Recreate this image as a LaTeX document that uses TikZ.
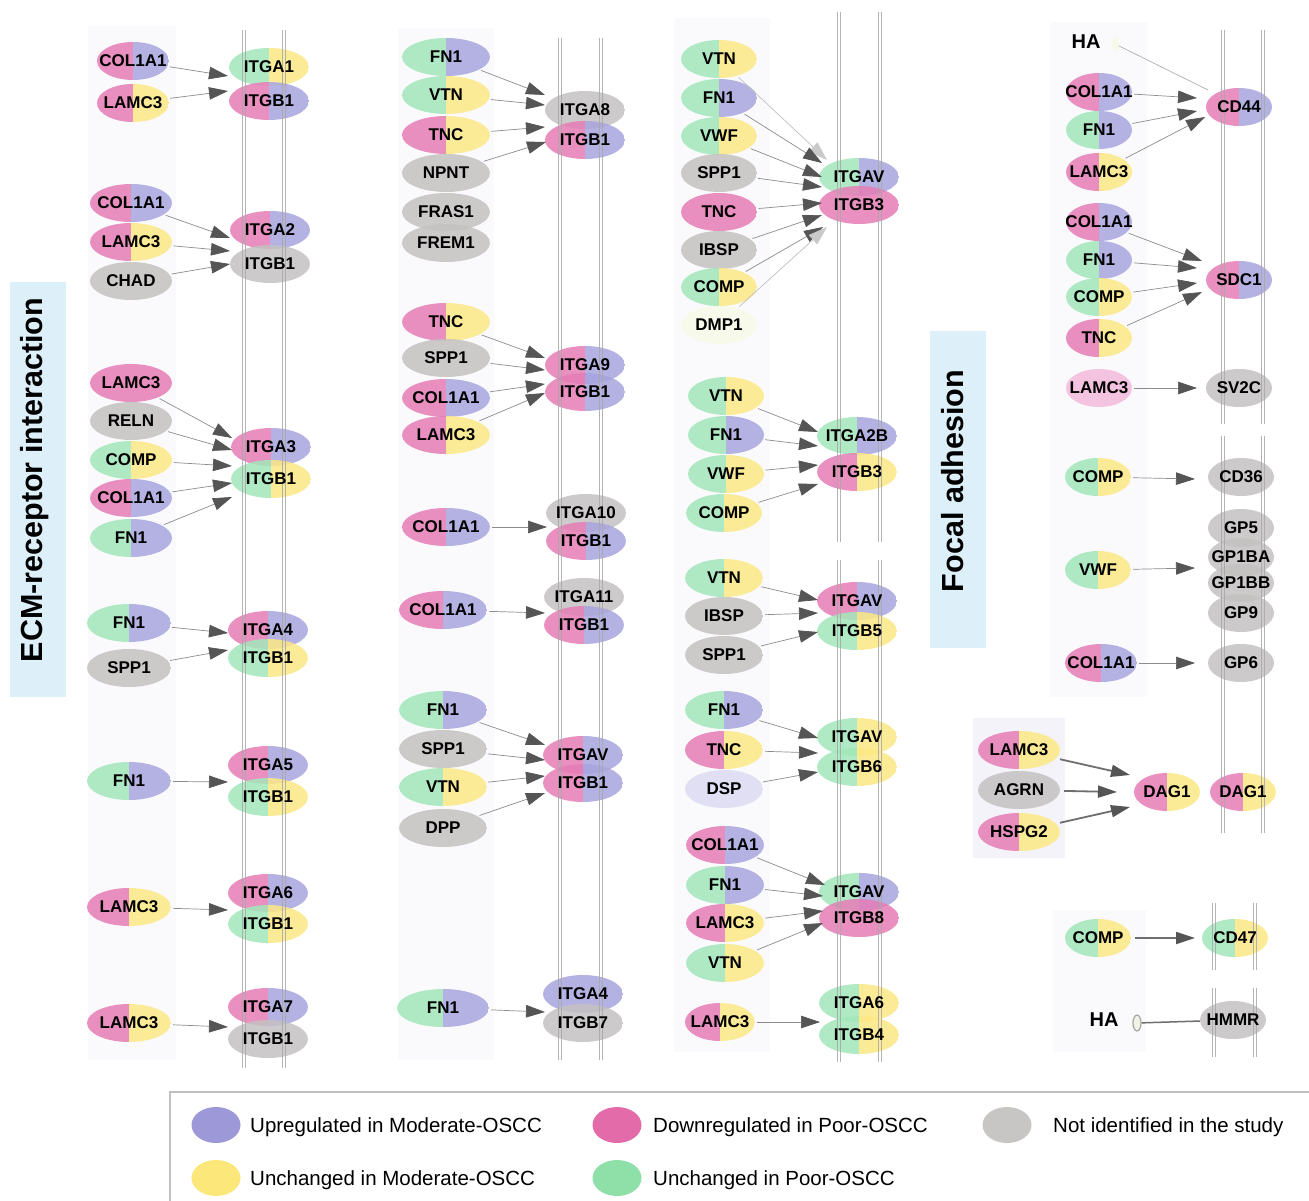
\documentclass[tikz,border=0pt]{standalone}
\usepackage{fontspec}
\setmainfont{Liberation Sans}
\usetikzlibrary{shapes.geometric,arrows.meta,calc}
\pgfdeclarelayer{panel}
\pgfdeclarelayer{ell}
\pgfdeclarelayer{memb}
\pgfsetlayers{panel,ell,memb,main}
\definecolor{cPu}{HTML}{A8A5DF}
\definecolor{cPi}{HTML}{E67DB6}
\definecolor{cGy}{HTML}{C4C1C1}
\definecolor{cYe}{HTML}{FCE884}
\definecolor{cGr}{HTML}{A3E7BA}
\definecolor{cDsp}{HTML}{DCDBF3}
\definecolor{cLp}{HTML}{F4BADB}
\definecolor{cDmp}{HTML}{F7FAE9}
\definecolor{cHae}{HTML}{F2F2E6}
\definecolor{lPu}{HTML}{9D99D9}
\definecolor{lPi}{HTML}{E46BAA}
\definecolor{lGy}{HTML}{C8C5C5}
\definecolor{lYe}{HTML}{FBE77A}
\definecolor{lGr}{HTML}{8FE0A8}
\definecolor{pnl}{HTML}{FAFAFD}
\definecolor{pnlb}{HTML}{F3F3F9}
\definecolor{ttlb}{HTML}{DDF0FA}
\definecolor{lineg}{HTML}{8C8C8C}
\definecolor{headg}{HTML}{555555}
\definecolor{headl}{HTML}{C9C9C9}
\definecolor{boldg}{HTML}{6E6E6E}
\definecolor{legb}{HTML}{C0C0C0}
\definecolor{memc}{HTML}{A8A8A8}

\newcommand\gene[8]{%
  \begin{pgfonlayer}{ell}
  \begin{scope}
    \clip (#2,#3) ellipse [x radius=#4pt, y radius=#5pt];
    \fill[#6, fill opacity=.85] ({#2-#4},{#3-#5}) rectangle (#2,{#3+#5});
    \fill[#7, fill opacity=.85] (#2,{#3-#5}) rectangle ({#2+#4},{#3+#5});
  \end{scope}
  \end{pgfonlayer}
  \node[gene, minimum width={2*#4pt}, minimum height={2*#5pt}] (#1) at (#2,#3) {\makebox[0pt]{#8}};
}
\newcommand\memb[3]{%
  \begin{pgfonlayer}{memb}
  \draw[mline] (#1,#2) -- (#1,#3);
  \draw[mline] ({#1+3.5},#2) -- ({#1+3.5},#3);
  \end{pgfonlayer}
}

\begin{document}
\begin{tikzpicture}[x=1pt,y=-1pt,
  gene/.style={ellipse, inner sep=0pt, font=\bfseries\fontsize{17}{17}\selectfont, text=black},
  arr/.style={draw=lineg, line width=0.7pt, shorten <=2pt, -{Triangle[length=19pt,width=12.5pt,color=headg]}},
  arrl/.style={draw=lineg!55, line width=0.7pt, shorten <=2pt, -{Triangle[length=19pt,width=12.5pt,color=headl]}},
  arrb/.style={draw=boldg, line width=1.8pt, shorten <=4pt, -{Triangle[length=19pt,width=12pt,color=headg]}},
  mline/.style={draw=memc, line width=0.9pt, opacity=0.85},
  hatext/.style={font=\bfseries\fontsize{20}{20}\selectfont, inner sep=0pt},
  legc/.style={ellipse, inner sep=0pt, minimum width=49pt, minimum height=36pt},
  legt/.style={anchor=base west, inner sep=0pt, font=\fontsize{20.5}{20.5}\selectfont},
  ttl/.style={rotate=90, anchor=base, inner sep=0pt, font=\bfseries\fontsize{30.5}{30.5}\selectfont}
]
\useasboundingbox (0,0) rectangle (1309,1201);
\begin{pgfonlayer}{panel}
\fill[white] (0,0) rectangle (1309,1201);
\fill[pnl] (88,26) rectangle (176,1060);
\fill[pnl] (398,28) rectangle (494,1060);
\fill[pnl] (674,18) rectangle (770,1052);
\fill[pnl] (1050,22) rectangle (1147,697);
\fill[pnlb] (973,718) rectangle (1065,858);
\fill[pnl] (1053,910) rectangle (1146,1052);
\fill[ttlb] (10,282) rectangle (66,697);
\fill[ttlb] (930,331) rectangle (986,648);
\end{pgfonlayer}

\node[ttl] (ttl1) at (42,480) {ECM-receptor interaction};
\node[ttl] (ttl2) at (963,481) {Focal adhesion};

% membranes
\memb{242}{30}{1068}\memb{282}{30}{1068}
\memb{558}{38}{1060}\memb{599}{38}{1060}
\memb{837}{12}{542}\memb{878}{12}{542}
\memb{837}{560}{1062}\memb{878}{560}{1062}
\memb{1221}{30}{424}\memb{1261}{30}{424}
\memb{1221}{436}{833}\memb{1261}{436}{833}
\memb{1212}{903}{970}\memb{1253}{903}{970}
\memb{1212}{988}{1057}\memb{1253}{988}{1057}

% ---------- column 1
\gene{a1s1}{133}{61}{36}{19}{cPi}{cPu}{COL1A1}
\gene{a1s2}{133}{103}{36}{19}{cPi}{cYe}{LAMC3}
\gene{a1t1}{269}{67}{40}{19}{cGr}{cYe}{ITGA1}
\gene{a1t2}{269}{101}{40}{19}{cPi}{cPu}{ITGB1}
\gene{a2s1}{131}{203}{41}{19}{cPi}{cPu}{COL1A1}
\gene{a2s2}{131}{242}{41}{19}{cPi}{cYe}{LAMC3}
\gene{a2s3}{131}{281}{41}{19}{cGy}{cGy}{CHAD}
\gene{a2t1}{270}{230}{40}{19}{cPi}{cPu}{ITGA2}
\gene{a2t2}{270}{264}{40}{19}{cGy}{cGy}{ITGB1}
\gene{a3s1}{131}{383}{41}{19}{cPi}{cPi}{LAMC3}
\gene{a3s2}{131}{421}{41}{19}{cGy}{cGy}{RELN}
\gene{a3s3}{131}{460}{41}{19}{cGr}{cYe}{COMP}
\gene{a3s4}{131}{498}{41}{19}{cPi}{cPu}{COL1A1}
\gene{a3s5}{131}{538}{41}{19}{cGr}{cPu}{FN1}
\gene{a3t1}{271}{447}{40}{19}{cPi}{cPu}{ITGA3}
\gene{a3t2}{271}{479}{40}{19}{cGr}{cYe}{ITGB1}
\gene{a4s1}{129}{623}{42}{19}{cGr}{cPu}{FN1}
\gene{a4s2}{129}{668}{42}{19}{cGy}{cGy}{SPP1}
\gene{a4t1}{268}{630}{40}{19}{cPi}{cPu}{ITGA4}
\gene{a4t2}{268}{658}{40}{19}{cGr}{cYe}{ITGB1}
\gene{a5s1}{129}{781}{42}{19}{cGr}{cPu}{FN1}
\gene{a5t1}{268}{765}{40}{19}{cPi}{cPu}{ITGA5}
\gene{a5t2}{268}{797}{40}{19}{cGr}{cYe}{ITGB1}
\gene{a6s1}{129}{907}{42}{19}{cPi}{cYe}{LAMC3}
\gene{a6t1}{268}{893}{40}{19}{cPi}{cPu}{ITGA6}
\gene{a6t2}{268}{924}{40}{19}{cGr}{cYe}{ITGB1}
\gene{a7s1}{129}{1023}{42}{19}{cPi}{cYe}{LAMC3}
\gene{a7t1}{268}{1007}{40}{19}{cPi}{cPu}{ITGA7}
\gene{a7t2}{268}{1039}{40}{19}{cGy}{cGy}{ITGB1}

\draw[arr] (a1s1) -- ($(a1t1)+(-41,9)$);
\draw[arr] (a1s2) -- ($(a1t2)+(-41,-10)$);
\draw[arr] (a2s1) -- ($(a2t1)+(-40,8)$);
\draw[arr] (a2s2) -- ($(a2t2)+(-40,-13)$);
\draw[arr] (a2s3) -- ($(a2t2)+(-40,0)$);
\draw[arr] (a3s1) -- ($(a3t1)+(-39,-9)$);
\draw[arr] (a3s2) -- ($(a3t1)+(-39,3)$);
\draw[arr] (a3s3) -- ($(a3t1)+(-39,19)$);
\draw[arr] (a3s4) -- ($(a3t2)+(-39,4)$);
\draw[arr] (a3s5) -- ($(a3t2)+(-39,18)$);
\draw[arr] (a4s1) -- ($(a4t1)+(-40,3)$);
\draw[arr] (a4s2) -- ($(a4t2)+(-40,-8)$);
\draw[arr] (a5s1) -- ($(a5t1)+(-40,17)$);
\draw[arr] (a6s1) -- ($(a6t1)+(-40,17)$);
\draw[arr] (a7s1) -- ($(a7t1)+(-40,20)$);

% ---------- column 2
\gene{b1s1}{446}{57}{44}{19}{cGr}{cPu}{FN1}
\gene{b1s2}{446}{95}{44}{19}{cGr}{cYe}{VTN}
\gene{b1s3}{446}{135}{44}{19}{cPi}{cYe}{TNC}
\gene{b1s4}{446}{173}{44}{19}{cGy}{cGy}{NPNT}
\gene{b1s5}{446}{212}{44}{19}{cGy}{cGy}{FRAS1}
\gene{b1s6}{446}{243}{44}{19}{cGy}{cGy}{FREM1}
\gene{b1t1}{585}{110}{40}{19}{cGy}{cGy}{ITGA8}
\gene{b1t2}{585}{140}{40}{19}{cPi}{cPu}{ITGB1}
\gene{b2s1}{446}{322}{44}{19}{cPi}{cYe}{TNC}
\gene{b2s2}{446}{358}{44}{19}{cGy}{cGy}{SPP1}
\gene{b2s3}{446}{398}{44}{19}{cPi}{cPu}{COL1A1}
\gene{b2s4}{446}{435}{44}{19}{cPi}{cYe}{LAMC3}
\gene{b2t1}{585}{365}{40}{19}{cPi}{cPu}{ITGA9}
\gene{b2t2}{585}{392}{40}{19}{cPi}{cPu}{ITGB1}
\gene{b3s1}{446}{527}{44}{19}{cPi}{cPu}{COL1A1}
\gene{b3t1}{586}{513}{40}{19}{cGy}{cGy}{ITGA10}
\gene{b3t2}{586}{541}{40}{19}{cPi}{cPu}{ITGB1}
\gene{b4s1}{443}{610}{44}{19}{cPi}{cPu}{COL1A1}
\gene{b4t1}{584}{597}{40}{19}{cGy}{cGy}{ITGA11}
\gene{b4t2}{584}{625}{40}{19}{cPi}{cPu}{ITGB1}
\gene{b5s1}{443}{710}{44}{19}{cGr}{cPu}{FN1}
\gene{b5s2}{443}{749}{44}{19}{cGy}{cGy}{SPP1}
\gene{b5s3}{443}{787}{44}{19}{cGr}{cYe}{VTN}
\gene{b5s4}{443}{828}{44}{19}{cGy}{cGy}{DPP}
\gene{b5t1}{583}{755}{40}{19}{cPi}{cPu}{ITGAV}
\gene{b5t2}{583}{783}{40}{19}{cPi}{cPu}{ITGB1}
\gene{b6s1}{443}{1008}{46}{19}{cGr}{cPu}{FN1}
\gene{b6t1}{583}{994}{40}{19}{cPu}{cPu}{ITGA4}
\gene{b6t2}{583}{1023}{40}{19}{cGy}{cGy}{ITGB7}

\draw[arr] (b1s1) -- ($(b1t1)+(-40,-15)$);
\draw[arr] (b1s2) -- ($(b1t1)+(-40,-5)$);
\draw[arr] (b1s3) -- ($(b1t1)+(-40,17)$);
\draw[arr] (b1s4) -- ($(b1t2)+(-39,2)$);
\draw[arr] (b2s1) -- ($(b2t1)+(-40,-7)$);
\draw[arr] (b2s2) -- ($(b2t1)+(-40,5)$);
\draw[arr] (b2s3) -- ($(b2t1)+(-40,19)$);
\draw[arr] (b2s4) -- ($(b2t2)+(-40,1)$);
\draw[arr] (b3s1) -- ($(b3t1)+(-39,14)$);
\draw[arr] (b4s1) -- ($(b4t1)+(-39,16)$);
\draw[arr] (b5s1) -- ($(b5t1)+(-38,-10)$);
\draw[arr] (b5s2) -- ($(b5t1)+(-38,5)$);
\draw[arr] (b5s3) -- ($(b5t1)+(-38,21)$);
\draw[arr] (b5s4) -- ($(b5t2)+(-38,10)$);
\draw[arr] (b6s1) -- ($(b6t1)+(-38,18)$);

% ---------- column 3
\gene{c1s1}{719}{59}{38}{19}{cGr}{cYe}{VTN}
\gene{c1s2}{719}{98}{38}{19}{cGr}{cPu}{FN1}
\gene{c1s3}{719}{136}{38}{19}{cGr}{cYe}{VWF}
\gene{c1s4}{719}{173}{38}{19}{cGy}{cGy}{SPP1}
\gene{c1s5}{719}{212}{38}{19}{cPi}{cPi}{TNC}
\gene{c1s6}{719}{250}{38}{19}{cGy}{cGy}{IBSP}
\gene{c1s7}{719}{287}{38}{19}{cGr}{cYe}{COMP}
\gene{c1s8}{719}{325}{38}{19}{cDmp}{cDmp}{DMP1}
\gene{c1t1}{859}{177}{40}{19}{cGr}{cPu}{ITGAV}
\gene{c1t2}{859}{205}{40}{19}{cPi}{cPi}{ITGB3}
\gene{c2s1}{726}{396}{38}{19}{cGr}{cYe}{VTN}
\gene{c2s2}{726}{435}{38}{19}{cGr}{cPu}{FN1}
\gene{c2s3}{726}{474}{38}{19}{cGr}{cYe}{VWF}
\gene{c2s4}{724}{513}{38}{19}{cGr}{cYe}{COMP}
\gene{c2t1}{857}{436}{40}{19}{cGr}{cPu}{ITGA2B}
\gene{c2t2}{857}{472}{40}{19}{cPi}{cYe}{ITGB3}
\gene{c3s1}{724}{578}{39}{19}{cGr}{cYe}{VTN}
\gene{c3s2}{724}{616}{39}{19}{cGy}{cGy}{IBSP}
\gene{c3s3}{724}{655}{39}{19}{cGy}{cGy}{SPP1}
\gene{c3t1}{857}{601}{40}{19}{cPi}{cPu}{ITGAV}
\gene{c3t2}{857}{631}{40}{19}{cGr}{cYe}{ITGB5}
\gene{c4s1}{724}{710}{39}{19}{cGr}{cPu}{FN1}
\gene{c4s2}{724}{750}{39}{19}{cPi}{cYe}{TNC}
\gene{c4s3}{724}{789}{39}{19}{cDsp}{cDsp}{DSP}
\gene{c4t1}{857}{737}{40}{19}{cGr}{cYe}{ITGAV}
\gene{c4t2}{857}{767}{40}{19}{cGr}{cYe}{ITGB6}
\gene{c5s1}{725}{845}{39}{19}{cPi}{cPu}{COL1A1}
\gene{c5s2}{725}{885}{39}{19}{cGr}{cPu}{FN1}
\gene{c5s3}{725}{923}{39}{19}{cPi}{cYe}{LAMC3}
\gene{c5s4}{725}{963}{39}{19}{cGr}{cYe}{VTN}
\gene{c5t1}{859}{892}{40}{19}{cGr}{cPu}{ITGAV}
\gene{c5t2}{859}{918}{40}{19}{cPi}{cPi}{ITGB8}
\gene{c6s1}{720}{1022}{35}{19}{cPi}{cYe}{LAMC3}
\gene{c6t1}{859}{1003}{40}{19}{cGr}{cYe}{ITGA6}
\gene{c6t2}{859}{1035}{40}{19}{cGr}{cYe}{ITGB4}

\draw[arrl] (c1s1) -- ($(c1t1)+(-32,-17)$);
\draw[arr] (c1s2) -- ($(c1t1)+(-37,-14)$);
\draw[arr] (c1s3) -- ($(c1t1)+(-37,0)$);
\draw[arr] (c1s4) -- ($(c1t1)+(-37,10)$);
\draw[arr] (c1s5) -- ($(c1t2)+(-37,-2)$);
\draw[arr] (c1s6) -- ($(c1t2)+(-37,10)$);
\draw[arr] (c1s7) -- ($(c1t2)+(-36,22)$);
\draw[arrl] (c1s8) -- ($(c1t2)+(-32,22)$);
\draw[arr] (c2s1) -- ($(c2t1)+(-39,-4)$);
\draw[arr] (c2s2) -- ($(c2t1)+(-39,10)$);
\draw[arr] (c2s3) -- ($(c2t2)+(-39,-7)$);
\draw[arr] (c2s4) -- ($(c2t2)+(-39,12)$);
\draw[arr] (c3s1) -- ($(c3t1)+(-39,-1)$);
\draw[arr] (c3s2) -- ($(c3t1)+(-39,12)$);
\draw[arr] (c3s3) -- ($(c3t2)+(-39,1)$);
\draw[arr] (c4s1) -- ($(c4t1)+(-39,1)$);
\draw[arr] (c4s2) -- ($(c4t1)+(-39,16)$);
\draw[arr] (c4s3) -- ($(c4t2)+(-39,5)$);
\draw[arr] (c5s1) -- ($(c5t1)+(-34,-7)$);
\draw[arr] (c5s2) -- ($(c5t1)+(-36,4)$);
\draw[arr] (c5s3) -- ($(c5t1)+(-36,19)$);
\draw[arr] (c5s4) -- ($(c5t2)+(-36,5)$);
\draw[arr] (c6s1) -- ($(c6t1)+(-39,19)$);

% ---------- column 4
\gene{d1s1}{1099}{92}{33}{19}{cPi}{cPu}{COL1A1}
\gene{d1s2}{1099}{130}{33}{19}{cGr}{cPu}{FN1}
\gene{d1s3}{1099}{172}{33}{19}{cPi}{cYe}{LAMC3}
\gene{d1t1}{1239}{107}{33}{19}{cPi}{cPu}{CD44}
\gene{d2s1}{1099}{222}{33}{19}{cPi}{cPu}{COL1A1}
\gene{d2s2}{1099}{260}{33}{19}{cGr}{cPu}{FN1}
\gene{d2s3}{1099}{297}{33}{19}{cGr}{cYe}{COMP}
\gene{d2s4}{1099}{338}{33}{19}{cPi}{cYe}{TNC}
\gene{d2t1}{1239}{280}{33}{19}{cPi}{cPu}{SDC1}
\gene{d3s1}{1099}{388}{33}{19}{cLp}{cLp}{LAMC3}
\gene{d3t1}{1239}{388}{33}{19}{cGy}{cGy}{SV2C}
\gene{d4s1}{1098}{477}{33}{19}{cGr}{cYe}{COMP}
\gene{d4t1}{1241}{477}{33}{19}{cGy}{cGy}{CD36}
\gene{d5t1}{1241}{528}{33}{19}{cGy}{cGy}{GP5}
\gene{d5t2}{1241}{557}{33}{19}{cGy}{cGy}{GP1BA}
\gene{d5t3}{1241}{583}{33}{19}{cGy}{cGy}{GP1BB}
\gene{d5t4}{1241}{613}{33}{19}{cGy}{cGy}{GP9}
\gene{d5s1}{1098}{570}{33}{19}{cGr}{cYe}{VWF}
\gene{d6s1}{1101}{663}{36}{19}{cPi}{cPu}{COL1A1}
\gene{d6t1}{1241}{663}{33}{19}{cGy}{cGy}{GP6}
\gene{d7s1}{1019}{750}{41}{19}{cPi}{cYe}{LAMC3}
\gene{d7s2}{1019}{790}{41}{19}{cGy}{cGy}{AGRN}
\gene{d7s3}{1019}{832}{41}{19}{cPi}{cYe}{HSPG2}
\gene{d7t1}{1167}{792}{33}{19}{cPi}{cYe}{DAG1}
\gene{d7t2}{1243}{792}{33}{19}{cPi}{cYe}{DAG1}
\gene{d8s1}{1098}{938}{33}{19}{cGr}{cYe}{COMP}
\gene{d8t1}{1235}{938}{33}{19}{cGr}{cYe}{CD47}
\gene{d9t1}{1233}{1020}{33}{19}{cGy}{cGy}{HMMR}

\node[hatext] (ha1) at (1086,42) {HA};
\node[ellipse, fill=cDmp, minimum width=7pt, minimum height=15pt, inner sep=0pt] (ha1e) at (1115,44) {};
\draw[draw=lineg!70, line width=0.7pt] (ha1e) -- ($(d1t1)+(-31,-17)$);

\draw[arr] (d1s1) -- ($(d1t1)+(-42,-9)$);
\draw[arr] (d1s2) -- ($(d1t1)+(-42,4)$);
\draw[arr] (d1s3) -- ($(d1t1)+(-34,10)$);
\draw[arr] (d2s1) -- ($(d2t1)+(-37,-19)$);
\draw[arr] (d2s2) -- ($(d2t1)+(-42,-12)$);
\draw[arr] (d2s3) -- ($(d2t1)+(-42,3)$);
\draw[arr] (d2s4) -- ($(d2t1)+(-37,12)$);
\draw[arr] (d3s1) -- ($(d3t1)+(-42,0)$);
\draw[arr] (d4s1) -- ($(d4t1)+(-46,2)$);
\draw[arr] (d5s1) -- ($(d5t2)+(-46,11)$);
\draw[arr] (d6s1) -- ($(d6t1)+(-46,0)$);
\draw[arrb] (d7s1) -- ($(d7t1)+(-37,-17)$);
\draw[arrb] (d7s2) -- ($(d7t1)+(-50,0)$);
\draw[arrb] (d7s3) -- ($(d7t1)+(-37,15)$);
\draw[arrb] (d8s1) -- ($(d8t1)+(-40,0)$);

\node[hatext] (ha2) at (1104,1020) {HA};
\node[ellipse, draw=gray!70, line width=1.2pt, fill=cHae, minimum width=8pt, minimum height=16pt, inner sep=0pt] (ha2e) at (1137,1023) {};
\draw[draw=boldg, line width=1.5pt] (ha2e) -- (d9t1);

% ---------- legend
\draw[draw=legb, line width=1.5pt] (170,1092) rectangle (1325,1215);
\node[legc, fill=lPu] (lc1) at (216,1125) {};
\node[legt] (lt1) at (250,1132) {Upregulated in Moderate-OSCC};
\node[legc, fill=lPi] (lc2) at (617,1125) {};
\node[legt] (lt2) at (653,1132) {Downregulated in Poor-OSCC};
\node[legc, fill=lGy] (lc3) at (1007,1125) {};
\node[legt] (lt3) at (1053,1132) {Not identified in the study};
\node[legc, fill=lYe] (lc4) at (216,1178) {};
\node[legt] (lt4) at (250,1185) {Unchanged in Moderate-OSCC};
\node[legc, fill=lGr] (lc5) at (617,1178) {};
\node[legt] (lt5) at (653,1185) {Unchanged in Poor-OSCC};
\end{tikzpicture}
\end{document}
